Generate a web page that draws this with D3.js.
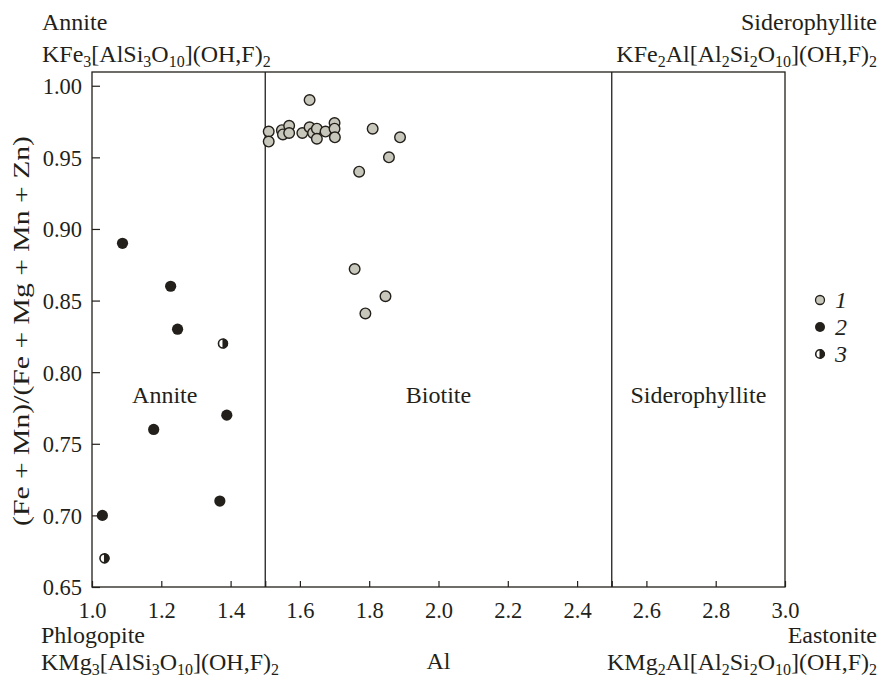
<!DOCTYPE html>
<html>
<head>
<meta charset="utf-8">
<script src="https://cdn.jsdelivr.net/npm/d3@7"></script>
<style>
  body { margin: 0; background: #fff; }
</style>
</head>
<body>
<script>
// series 1 - grey circles
const s1Al = [1.51, 1.51, 1.548, 1.551, 1.569, 1.569, 1.628, 1.607, 1.628, 1.638, 1.649, 1.649, 1.674, 1.700, 1.700, 1.701, 1.810, 1.889, 1.857, 1.771, 1.758, 1.847, 1.789];
const s1Fe = [0.968, 0.961, 0.969, 0.966, 0.972, 0.967, 0.990, 0.967, 0.971, 0.967, 0.970, 0.963, 0.968, 0.974, 0.970, 0.964, 0.970, 0.964, 0.950, 0.940, 0.872, 0.853, 0.841];
// series 2 - black
const s2Al = [1.088, 1.227, 1.247, 1.389, 1.178, 1.369, 1.030];
const s2Fe = [0.890, 0.860, 0.830, 0.770, 0.760, 0.710, 0.700];
// series 3 - half filled
const s3Al = [1.378, 1.036];
const s3Fe = [0.820, 0.670];

const xTicks = [1.0, 1.2, 1.4, 1.6, 1.8, 2.0, 2.2, 2.4, 2.6, 2.8, 3.0];
const xMinor = [1.5, 2.5];
const yTicks = [0.65, 0.70, 0.75, 0.80, 0.85, 0.90, 0.95, 1.00];
const boundaries = [1.5, 2.5];
const fields = [{name: "Annite", x: 1.21}, {name: "Biotite", x: 2.0}, {name: "Siderophyllite", x: 2.75}];

const W = 879, H = 681;
const ink = "#231f1a";
const grey = "#c8c7bc";
const font = "Liberation Serif";
const fs = 24, fsNum = 22.5, fsSub = 16;

const svg = d3.select("body").append("svg").attr("width", W).attr("height", H)
  .attr("font-family", font);

const x = d3.scaleLinear().domain([1.0, 3.0]).range([92, 785]);
const y = d3.scaleLinear().domain([0.65, 1.0096]).range([587, 72]);

// frame
svg.append("rect")
  .attr("x", x(1.0)).attr("y", y.range()[1])
  .attr("width", x(3.0) - x(1.0)).attr("height", y.range()[0] - y.range()[1])
  .attr("fill", "none").attr("stroke", ink).attr("stroke-width", 1.3);

// field boundaries
svg.selectAll("line.bound").data(boundaries).enter().append("line")
  .attr("class", "bound")
  .attr("x1", d => x(d)).attr("x2", d => x(d))
  .attr("y1", y.range()[1]).attr("y2", y.range()[0])
  .attr("stroke", ink).attr("stroke-width", 1.3);

// x ticks (inward)
const xAxis = svg.append("g").attr("transform", `translate(0,${y.range()[0]})`)
  .call(d3.axisBottom(x).tickValues(xTicks.concat(xMinor)).tickSizeInner(-6).tickSizeOuter(0)
    .tickFormat(d => xTicks.includes(d) ? d3.format(".1f")(d) : ""));
xAxis.attr("font-family", font).attr("font-size", fsNum);
xAxis.select(".domain").remove();
xAxis.selectAll("line").attr("stroke", ink).attr("stroke-width", 1.2);
xAxis.selectAll("text").filter(d => !xTicks.includes(d)).remove();
xAxis.selectAll("text").attr("dy", 0).attr("y", 31)
  .attr("font-family", font).attr("font-size", fsNum).attr("fill", ink);

// y ticks (inward)
const yAxis = svg.append("g").attr("transform", `translate(${x.range()[0]},0)`)
  .call(d3.axisLeft(y).tickValues(yTicks).tickSizeInner(-8).tickSizeOuter(0).tickFormat(d3.format(".2f")));
yAxis.attr("font-family", font).attr("font-size", fsNum);
yAxis.select(".domain").remove();
yAxis.selectAll("line").attr("stroke", ink).attr("stroke-width", 1.2);
yAxis.selectAll("text").attr("x", -10).attr("dy", "0.35em")
  .attr("font-family", font).attr("font-size", fsNum).attr("fill", ink);

// field labels
svg.selectAll("text.field").data(fields).enter().append("text")
  .attr("class", "field")
  .attr("x", d => x(d.x)).attr("y", 403)
  .attr("text-anchor", "middle").attr("font-family", font).attr("font-size", fs).attr("fill", ink)
  .text(d => d.name);

// markers
const r = 5.3;
svg.append("g").selectAll("circle").data(s1Al.map((a, i) => [a, s1Fe[i]])).enter().append("circle")
  .attr("cx", d => x(d[0])).attr("cy", d => y(d[1])).attr("r", r)
  .attr("fill", grey).attr("stroke", ink).attr("stroke-width", 1.4);

svg.append("g").selectAll("circle").data(s2Al.map((a, i) => [a, s2Fe[i]])).enter().append("circle")
  .attr("cx", d => x(d[0])).attr("cy", d => y(d[1])).attr("r", 5.6)
  .attr("fill", ink);

function halfMarker(g, cx, cy, rr) {
  g.append("circle").attr("cx", cx).attr("cy", cy).attr("r", rr)
    .attr("fill", "#fff").attr("stroke", ink).attr("stroke-width", 1.6);
  g.append("path")
    .attr("d", `M${cx},${cy - rr} A${rr},${rr} 0 0 1 ${cx},${cy + rr} Z`)
    .attr("fill", ink).attr("stroke", ink).attr("stroke-width", 1);
}
const g3 = svg.append("g");
s3Al.forEach((a, i) => halfMarker(g3, x(a), y(s3Fe[i]), 4.5));

// legend
const legend = svg.append("g");
const legY = [300, 327, 354];
legend.append("circle").attr("cx", 820).attr("cy", legY[0]).attr("r", 4.5)
  .attr("fill", grey).attr("stroke", ink).attr("stroke-width", 1.3);
legend.append("circle").attr("cx", 820).attr("cy", legY[1]).attr("r", 5).attr("fill", ink);
halfMarker(legend, 820, legY[2], 4.3);
["1", "2", "3"].forEach((t, i) => {
  legend.append("text").attr("x", 835).attr("y", legY[i] + 8)
    .attr("font-family", font).attr("font-size", fs).attr("fill", ink)
    .attr("font-style", "italic").text(t);
});

// axis titles
svg.append("text").attr("x", x(2.0)).attr("y", 669).attr("text-anchor", "middle")
  .attr("font-family", font).attr("font-size", fs).attr("fill", ink).text("Al");
svg.append("text").attr("transform", "translate(29,331) rotate(-90)").attr("text-anchor", "middle")
  .attr("font-family", font).attr("font-size", 23).attr("fill", ink)
  .attr("textLength", 390).attr("lengthAdjust", "spacingAndGlyphs")
  .text("(Fe + Mn)/(Fe + Mg + Mn + Zn)");

// corner formulas: [text, isSubscript]
function formula(xp, yp, parts, anchor) {
  const t = svg.append("text").attr("x", xp).attr("y", yp).attr("text-anchor", anchor)
    .attr("font-family", font).attr("font-size", fs).attr("fill", ink);
  let off = 0;
  parts.forEach(p => {
    const target = p[1] ? 5 : 0;
    t.append("tspan").attr("dy", target - off)
      .attr("font-family", font).attr("font-size", p[1] ? fsSub : fs).text(p[0]);
    off = target;
  });
  return t;
}

formula(42, 30, [["Annite", 0]], "start");
formula(42, 62, [["KFe", 0], ["3", 1], ["[AlSi", 0], ["3", 1], ["O", 0], ["10", 1], ["](OH,F)", 0], ["2", 1]], "start");
formula(877, 30, [["Siderophyllite", 0]], "end");
formula(877, 62, [["KFe", 0], ["2", 1], ["Al[Al", 0], ["2", 1], ["Si", 0], ["2", 1], ["O", 0], ["10", 1], ["](OH,F)", 0], ["2", 1]], "end");
formula(41, 643, [["Phlogopite", 0]], "start");
formula(41, 670, [["KMg", 0], ["3", 1], ["[AlSi", 0], ["3", 1], ["O", 0], ["10", 1], ["](OH,F)", 0], ["2", 1]], "start");
formula(877, 643, [["Eastonite", 0]], "end");
formula(877, 670, [["KMg", 0], ["2", 1], ["Al[Al", 0], ["2", 1], ["Si", 0], ["2", 1], ["O", 0], ["10", 1], ["](OH,F)", 0], ["2", 1]], "end");
</script>
</body>
</html>
